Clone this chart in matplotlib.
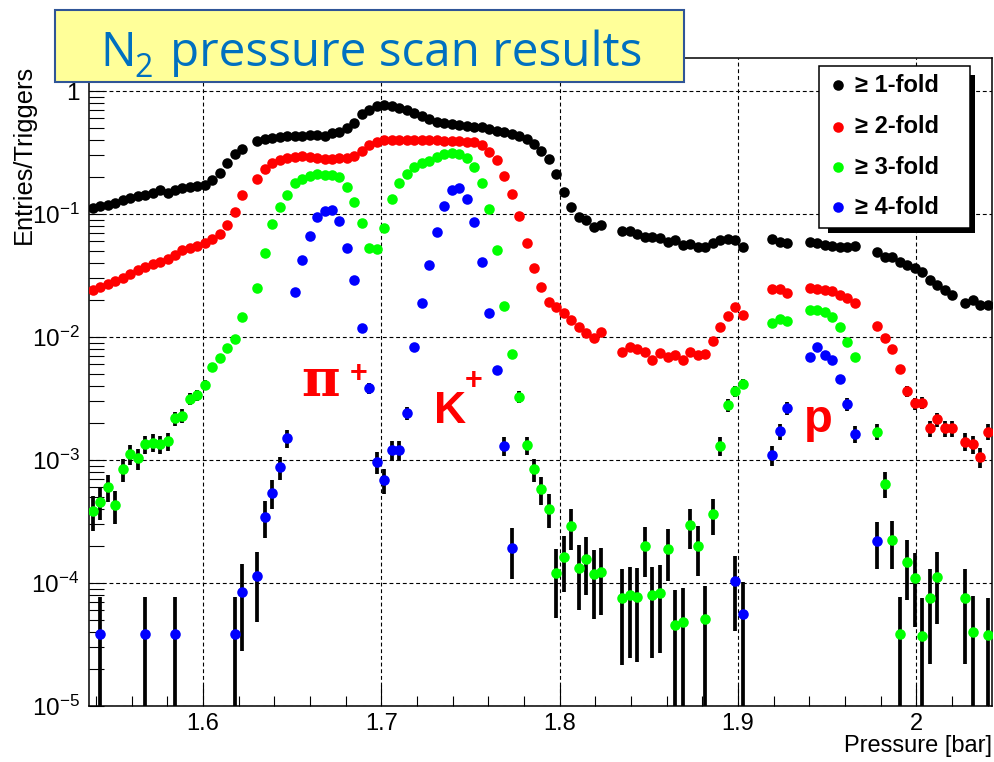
import numpy as np
import matplotlib
matplotlib.use("Agg")
import matplotlib.pyplot as plt
from matplotlib.patches import Rectangle
from matplotlib.lines import Line2D
from matplotlib.ticker import MultipleLocator, FixedLocator, FixedFormatter, LogLocator, NullFormatter, FormatStrFormatter

plt.rcParams['font.family'] = ['Liberation Sans', 'DejaVu Sans']
plt.rcParams['mathtext.fontset'] = 'custom'
plt.rcParams['mathtext.rm'] = 'Liberation Sans'
plt.rcParams['mathtext.it'] = 'Liberation Sans:italic'
plt.rcParams['mathtext.bf'] = 'Liberation Sans:bold'

# ---------------------------------------------------------------- data
pressure = [
    1.5381, 1.5423, 1.5465, 1.5507, 1.5549, 1.5591, 1.5633, 1.5675, 1.5717, 1.5759,
    1.5801, 1.5842, 1.5884, 1.5926, 1.5968, 1.6010, 1.6052, 1.6094, 1.6136, 1.6178,
    1.6220, 1.6304, 1.6346, 1.6388, 1.6430, 1.6472, 1.6514, 1.6556, 1.6598, 1.6640,
    1.6682, 1.6723, 1.6765, 1.6807, 1.6849, 1.6891, 1.6933, 1.6975, 1.7017, 1.7059,
    1.7101, 1.7143, 1.7185, 1.7227, 1.7269, 1.7311, 1.7353, 1.7395, 1.7437, 1.7479,
    1.7521, 1.7563, 1.7604, 1.7646, 1.7688, 1.7730, 1.7772, 1.7814, 1.7856, 1.7898,
    1.7940, 1.7982, 1.8024, 1.8066, 1.8108, 1.8150, 1.8192, 1.8234,
    1.8352, 1.8394, 1.8436, 1.8478, 1.8520, 1.8563, 1.8605, 1.8647, 1.8689, 1.8731,
    1.8774, 1.8816, 1.8858, 1.8901, 1.8943, 1.8985, 1.9027,
    1.9191, 1.9233, 1.9275, 1.9402, 1.9444, 1.9486, 1.9528, 1.9570, 1.9612, 1.9654,
    1.9780, 1.9822, 1.9864, 1.9906, 1.9949, 1.9991, 2.0033, 2.0075, 2.0117, 2.0159, 2.0201,
    2.0274, 2.0316, 2.0358, 2.0400,
]

fold1 = [
    0.1112, 0.1161, 0.1194, 0.1240, 0.1288, 0.1337, 0.1388, 0.1427, 0.1481, 0.1567,
    0.1481, 0.1582, 0.1627, 0.1673, 0.1689, 0.1737, 0.1890, 0.2135, 0.2598, 0.3074,
    0.3407, 0.3886, 0.4034, 0.4149, 0.4227, 0.4307, 0.4307, 0.4347, 0.4388, 0.4388,
    0.4307, 0.4529, 0.4667, 0.4975, 0.5462, 0.6501, 0.7072, 0.7551, 0.7651, 0.7580,
    0.7341, 0.7007, 0.6660, 0.6262, 0.5920, 0.5630, 0.5443, 0.5342, 0.5262, 0.5175,
    0.5127, 0.5069, 0.4911, 0.4730, 0.4624, 0.4504, 0.4307, 0.4072, 0.3710, 0.3280,
    0.2800, 0.2114, 0.1501, 0.1147, 0.0951, 0.0894, 0.0788, 0.0814,
    0.0731, 0.0731, 0.0684, 0.0654, 0.0654, 0.0634, 0.0595, 0.0614, 0.0560, 0.0570,
    0.0542, 0.0536, 0.0578, 0.0614, 0.0623, 0.0614, 0.0536,
    0.0623, 0.0595, 0.0578, 0.0589, 0.0578, 0.0565, 0.0549, 0.0539, 0.0536, 0.0553,
    0.0494, 0.0450, 0.0450, 0.0409, 0.0385, 0.0362, 0.0340, 0.0291, 0.0265, 0.0241, 0.0220,
    0.0188, 0.0200, 0.0182, 0.0182,
]

fold2 = [
    0.0241, 0.0257, 0.0272, 0.0285, 0.0302, 0.0328, 0.0350, 0.0371, 0.0392, 0.0411,
    0.0430, 0.0464, 0.0505, 0.0534, 0.0554, 0.0581, 0.0626, 0.0688, 0.0821, 0.1044,
    0.1427, 0.1926, 0.2309, 0.2598, 0.2748, 0.2879, 0.2923, 0.2961, 0.2906, 0.2879,
    0.2800, 0.2826, 0.2837, 0.2837, 0.2961, 0.3252, 0.3639, 0.3871, 0.3960, 0.3997,
    0.3997, 0.3997, 0.3997, 0.3997, 0.3968, 0.3960, 0.3941, 0.3924, 0.3896, 0.3871,
    0.3815, 0.3639, 0.3213, 0.2748, 0.2048, 0.1454, 0.0963, 0.0576, 0.0362, 0.0254,
    0.0194, 0.0176, 0.0157, 0.01374, 0.01213, 0.01071, 0.00976, 0.01092,
    0.00759, 0.00834, 0.00794, 0.00759, 0.00650, 0.00737, 0.00692, 0.00714, 0.00650, 0.00759,
    0.00714, 0.00727, 0.00933, 0.01213, 0.01482, 0.01744, 0.01510,
    0.0244, 0.0244, 0.0227, 0.0249, 0.0246, 0.0241, 0.0238, 0.0220, 0.0206, 0.0188,
    0.01229, 0.00976, 0.00794, 0.00546, 0.00364, 0.00288, 0.00291, 0.00181, 0.00214, 0.00181, 0.00181,
    0.00141, 0.00135, 0.00106, 0.00170,
]

fold3 = [
    3.87e-4, 4.58e-4, 6.07e-4, 4.31e-4, 8.40e-4, 1.119e-3, 1.032e-3, 1.341e-3, 1.382e-3, 1.341e-3,
    1.427e-3, 2.182e-3, 2.279e-3, 3.132e-3, 3.376e-3, 4.072e-3, 5.67e-3, 6.79e-3, 8.18e-3, 9.63e-3,
    0.01462, 0.0249, 0.0485, 0.0829, 0.1133, 0.1427, 0.1777, 0.1915, 0.2048, 0.2103,
    0.2076, 0.2076, 0.2010, 0.1648, 0.1259, 0.0840, 0.0532, 0.0516, 0.0765, 0.1317,
    0.1797, 0.2114, 0.2397, 0.2584, 0.2712, 0.2891, 0.3074, 0.3114, 0.3074, 0.2837,
    0.2397, 0.1777, 0.1092, 0.0510, 0.0179, 7.23e-3, 3.28e-3, 1.324e-3, 8.40e-4, 5.78e-4,
    4.02e-4, 1.20e-4, 1.63e-4, 2.92e-4, 1.32e-4, 1.57e-4, 1.18e-4, 1.24e-4,
    7.51e-5, 7.99e-5, 7.74e-5, 2.00e-4, 7.99e-5, 8.34e-5, 1.88e-4, 4.55e-5, 4.85e-5, 2.96e-4,
    2.01e-4, 5.10e-5, 3.62e-4, 1.307e-3, 2.80e-3, 3.64e-3, 4.15e-3,
    0.01307, 0.01393, 0.01357, 0.01658, 0.01658, 0.01606, 0.01462, 0.01213, 9.16e-3, 6.92e-3,
    1.705e-3, 6.44e-4, 2.24e-4, 3.83e-5, 1.49e-4, 1.09e-4, 3.73e-5, 7.60e-5, 1.125e-4, None, None,
    7.60e-5, 3.97e-5, None, 3.78e-5,
]

fold4 = [
    None, 3.85e-5, None, None, None, None, None, 3.85e-5, None, None,
    None, 3.85e-5, None, None, None, None, None, None, None, 3.85e-5,
    8.50e-5, 1.14e-4, 3.46e-4, 5.42e-4, 8.72e-4, 1.501e-3, 0.02335, 0.04227, 0.0666, 0.0940,
    0.1058, 0.1078, 0.0882, 0.0532, 0.0291, 0.01177, 3.83e-3, 9.68e-4, 6.88e-4, 1.206e-3,
    1.206e-3, 2.40e-3, 8.34e-3, 0.0190, 0.0385, 0.0718, 0.1161, 0.1567, 0.1636, 0.1324,
    0.0856, 0.0409, 0.01576, 5.39e-3, 1.307e-3, 1.94e-4, None, None, None, None,
    None, None, None, None, None, None, None, None,
    None, None, None, None, None, None, None, None, None, None,
    None, None, None, None, None, 1.038e-4, 5.60e-5,
    1.098e-3, 1.72e-3, 2.63e-3, 6.92e-3, 8.34e-3, 7.14e-3, 6.50e-3, 4.53e-3, 2.85e-3, 1.627e-3,
    2.21e-4, None, None, None, None, None, None, None, None, None, None,
    None, None, None, None,
]

series_labels = ["\u2265 1-fold", "\u2265 2-fold", "\u2265 3-fold", "\u2265 4-fold"]
series_colors = ["#000000", "#ff0000", "#00ff00", "#0000ff"]
triggers = 26000.0          # normalisation: one count = 1/triggers

x_ticks = [1.6, 1.7, 1.8, 1.9, 2.0]
y_ticks = [1e-5, 1e-4, 1e-3, 1e-2, 1e-1, 1.0]
y_tick_labels = ["$10^{-5}$", "$10^{-4}$", "$10^{-3}$", "$10^{-2}$", "$10^{-1}$", "1"]

# ---------------------------------------------------------------- figure
W, H = 994, 762
fig = plt.figure(figsize=(W / 100, H / 100), dpi=100)
fig.patch.set_facecolor("white")


def fx(px):
    return px / W


def fy(py):
    return 1.0 - py / H


ax = fig.add_axes([fx(89.3), fy(706), fx(991.7) - fx(89.3), fy(58) - fy(706)])
ax.set_yscale("log")
ax.set_xlim(1.5362, 2.0423)
ax.set_ylim(1e-5, 1.855)

for values, color in zip([fold1, fold2, fold3, fold4], series_colors):
    p = np.array([pressure[i] for i, v in enumerate(values) if v is not None])
    v = np.array([v for v in values if v is not None])
    err = np.sqrt(v / triggers)
    lower = np.minimum(err, v * (1 - 1e-6))
    ax.errorbar(p, v, yerr=[lower, err], fmt="none", ecolor="black",
                elinewidth=2.7, capsize=0, zorder=3)
    ax.plot(p, v, "o", color=color, ms=7.6, mec="none", zorder=4)

# axes styling
ax.xaxis.set_major_locator(FixedLocator(x_ticks))
ax.xaxis.set_major_formatter(FormatStrFormatter("%g"))
ax.xaxis.set_minor_locator(MultipleLocator(0.02))
ax.yaxis.set_major_locator(FixedLocator(y_ticks))
ax.yaxis.set_major_formatter(FixedFormatter(y_tick_labels))
ax.yaxis.set_minor_locator(LogLocator(base=10, subs=np.arange(2, 10)))
ax.yaxis.set_minor_formatter(NullFormatter())

ax.tick_params(axis="x", which="major", direction="in", length=15, width=0.8,
               labelsize=17, pad=5, top=False)
ax.tick_params(axis="x", which="minor", direction="in", length=7.5, width=0.8, top=False)
ax.tick_params(axis="y", which="major", direction="in", length=11, width=0.8,
               labelsize=17.5, pad=7, right=False)
ax.tick_params(axis="y", which="minor", direction="in", length=10.5, width=0.8, right=False)
for s in ax.spines.values():
    s.set_linewidth(1.1)

ax.grid(True, which="major", color="black", lw=0.8, ls=(0, (3.5, 2.5)), zorder=1)
ax.set_axisbelow(True)

# particle labels
ax.text(1.6550, 3.3e-3, "\u03c0", color="#ff0000", fontsize=38, fontweight="bold",
        family=["DejaVu Serif"], ha="left", va="baseline", zorder=5)
ax.text(1.6820, 4.3e-3, "+", color="#ff0000", fontsize=22, fontweight="bold",
        ha="left", va="baseline", zorder=5)
ax.text(1.7295, 2.0e-3, "K", color="#ff0000", fontsize=32, fontweight="bold",
        ha="left", va="baseline", zorder=5)
ax.text(1.7465, 3.8e-3, "+", color="#ff0000", fontsize=22, fontweight="bold",
        ha="left", va="baseline", zorder=5)
ax.text(1.9370, 1.69e-3, "p", color="#ff0000", fontsize=34, fontweight="bold",
        ha="left", va="baseline", zorder=5)

# axis titles
fig.text(fx(992), fy(746), "Pressure [bar]", ha="right", va="center", fontsize=17)
fig.text(fx(24), fy(154), "Entries/Triggers", ha="center", va="center",
         rotation=90, fontsize=18.3)

# legend with drop shadow
fig.add_artist(Rectangle((fx(828), fy(233)), fx(975) - fx(828), fy(75) - fy(233),
                         transform=fig.transFigure, facecolor="black", edgecolor="none", zorder=10))
fig.add_artist(Rectangle((fx(819), fy(228)), fx(970) - fx(819), fy(66) - fy(228),
                         transform=fig.transFigure, facecolor="white", edgecolor="black",
                         lw=1.1, zorder=11))
for row, (label, color) in enumerate(zip(series_labels, series_colors)):
    yrow = [85, 126.5, 167, 207][row]
    fig.add_artist(Line2D([fx(838)], [fy(yrow)], marker="o", color=color, ms=7.6,
                          mec="none", transform=fig.transFigure, zorder=12))
    fig.text(fx(855), fy(yrow), label, ha="left", va="center", fontsize=17,
             fontweight="bold", zorder=12)

# title banner
fig.add_artist(Rectangle((fx(55), fy(82)), fx(684) - fx(55), fy(10) - fy(82),
                         transform=fig.transFigure, facecolor="#ffff99", edgecolor="#2f5597",
                         lw=1.5, zorder=13))
title_kw = dict(color="#0070c0", family=["Open Sans", "DejaVu Sans"], va="baseline",
                ha="left", zorder=14)
fig.text(fx(100), fy(66), "N", fontsize=34, **title_kw)
fig.text(fx(134), fy(77), "2", fontsize=23, **title_kw)
fig.text(fx(170), fy(66), "pressure scan results", fontsize=34.3, **title_kw)

fig.savefig("out.png", dpi=100)
